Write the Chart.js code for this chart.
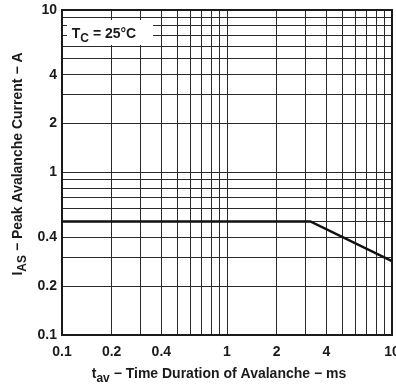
<!DOCTYPE html>
<html>
<head>
<meta charset="utf-8">
<script src="https://cdn.jsdelivr.net/npm/chart.js@4/dist/chart.umd.min.js"></script>
<style>
  html, body { margin: 0; padding: 0; background: #fff; }
  #wrap { width: 396px; height: 388px; }
</style>
</head>
<body>
<div id="wrap"><canvas id="chart" width="396" height="388"></canvas></div>
<script>
// Dati
const timeValues = [0.1, 3.2, 10];          // t_av (ms)
const currentValues = [0.5, 0.5, 0.285];    // I_AS (A)

// Linee di griglia (log) e etichette
const gridTicks = [0.1, 0.2, 0.3, 0.4, 0.5, 0.6, 0.7, 0.8, 0.9,
                   1, 2, 3, 4, 5, 6, 7, 8, 9, 10];
const xTickLabels = [0.1, 0.2, 0.4, 1, 2, 4, 10];
const yTickLabels = [0.1, 0.2, 0.4, 1, 2, 4, 10];

const FONT = '"Liberation Sans", Arial, sans-serif';

// Disegna testo con pedici: parts = [[testo, isSub], ...]
function drawParts(ctx, parts, x, y, size) {
    let total = 0;
    parts.forEach(p => {
        ctx.font = `bold ${p[1] ? size - 2 : size}px ${FONT}`;
        total += ctx.measureText(p[0]).width;
    });
    let cx = x - total / 2;
    parts.forEach(p => {
        ctx.font = `bold ${p[1] ? size - 2 : size}px ${FONT}`;
        ctx.fillText(p[0], cx, p[1] ? y + 4 : y);
        cx += ctx.measureText(p[0]).width;
    });
}

const labelsPlugin = {
    id: 'labelsPlugin',
    beforeDatasetsDraw(chart) {
        const ctx = chart.ctx;
        const a = chart.chartArea;
        // riquadro T_C
        ctx.save();
        ctx.fillStyle = '#fff';
        ctx.fillRect(67, 20, 86, 25);
        ctx.fillStyle = '#1a1a1a';
        ctx.textAlign = 'left';
        ctx.textBaseline = 'alphabetic';
        drawParts(ctx, [['T', false], ['C', true], [' = 25°C', false]], 104, 38, 14);
        // bordo del grafico
        ctx.strokeStyle = '#1a1a1a';
        ctx.lineWidth = 2;
        ctx.strokeRect(a.left, a.top, a.right - a.left, a.bottom - a.top);
        ctx.restore();
    },
    afterDraw(chart) {
        const ctx = chart.ctx;
        ctx.save();
        ctx.fillStyle = '#1a1a1a';
        ctx.textAlign = 'left';
        ctx.textBaseline = 'alphabetic';
        // titolo asse x
        drawParts(ctx, [['t', false], ['av', true], [' \u2212 Time Duration of Avalanche \u2212 ms', false]], 219, 378, 14);
        // titolo asse y
        ctx.translate(22, 164);
        ctx.rotate(-Math.PI / 2);
        drawParts(ctx, [['I', false], ['AS', true], [' \u2212 Peak Avalanche Current \u2212 A', false]], 0, 0, 14);
        ctx.restore();
    }
};

new Chart(document.getElementById('chart').getContext('2d'), {
    type: 'scatter',
    data: {
        datasets: [{
            data: timeValues.map((t, i) => ({ x: t, y: currentValues[i] })),
            showLine: true,
            borderColor: '#111',
            borderWidth: 2.5,
            pointRadius: 0,
            tension: 0
        }]
    },
    options: {
        responsive: false,
        animation: false,
        layout: { padding: { left: 0, top: 10, right: 4, bottom: 0 } },
        plugins: {
            legend: { display: false },
            tooltip: { enabled: false }
        },
        scales: {
            x: {
                type: 'logarithmic',
                min: 0.1,
                max: 10,
                afterBuildTicks: scale => { scale.ticks = gridTicks.map(v => ({ value: v })); },
                afterFit: scale => { scale.height = 53; scale.paddingLeft = 0; scale.paddingRight = 0; },
                ticks: {
                    autoSkip: false,
                    maxRotation: 0,
                    padding: 9,
                    color: '#1a1a1a',
                    font: { family: FONT, size: 14, weight: 'bold' },
                    callback: v => xTickLabels.includes(v) ? String(v) : ''
                },
                grid: { color: '#2a2a2a', lineWidth: 1, drawTicks: false },
                border: { color: '#1a1a1a', width: 2 }
            },
            y: {
                type: 'logarithmic',
                min: 0.1,
                max: 10,
                afterBuildTicks: scale => { scale.ticks = gridTicks.map(v => ({ value: v })); },
                afterFit: scale => { scale.width = 62; scale.paddingTop = 0; scale.paddingBottom = 0; },
                ticks: {
                    autoSkip: false,
                    padding: 5,
                    color: '#1a1a1a',
                    font: { family: FONT, size: 14, weight: 'bold' },
                    callback: v => yTickLabels.includes(v) ? String(v) : ''
                },
                grid: { color: '#2a2a2a', lineWidth: 1, drawTicks: false },
                border: { color: '#1a1a1a', width: 2 }
            }
        }
    },
    plugins: [labelsPlugin]
});
</script>
</body>
</html>
